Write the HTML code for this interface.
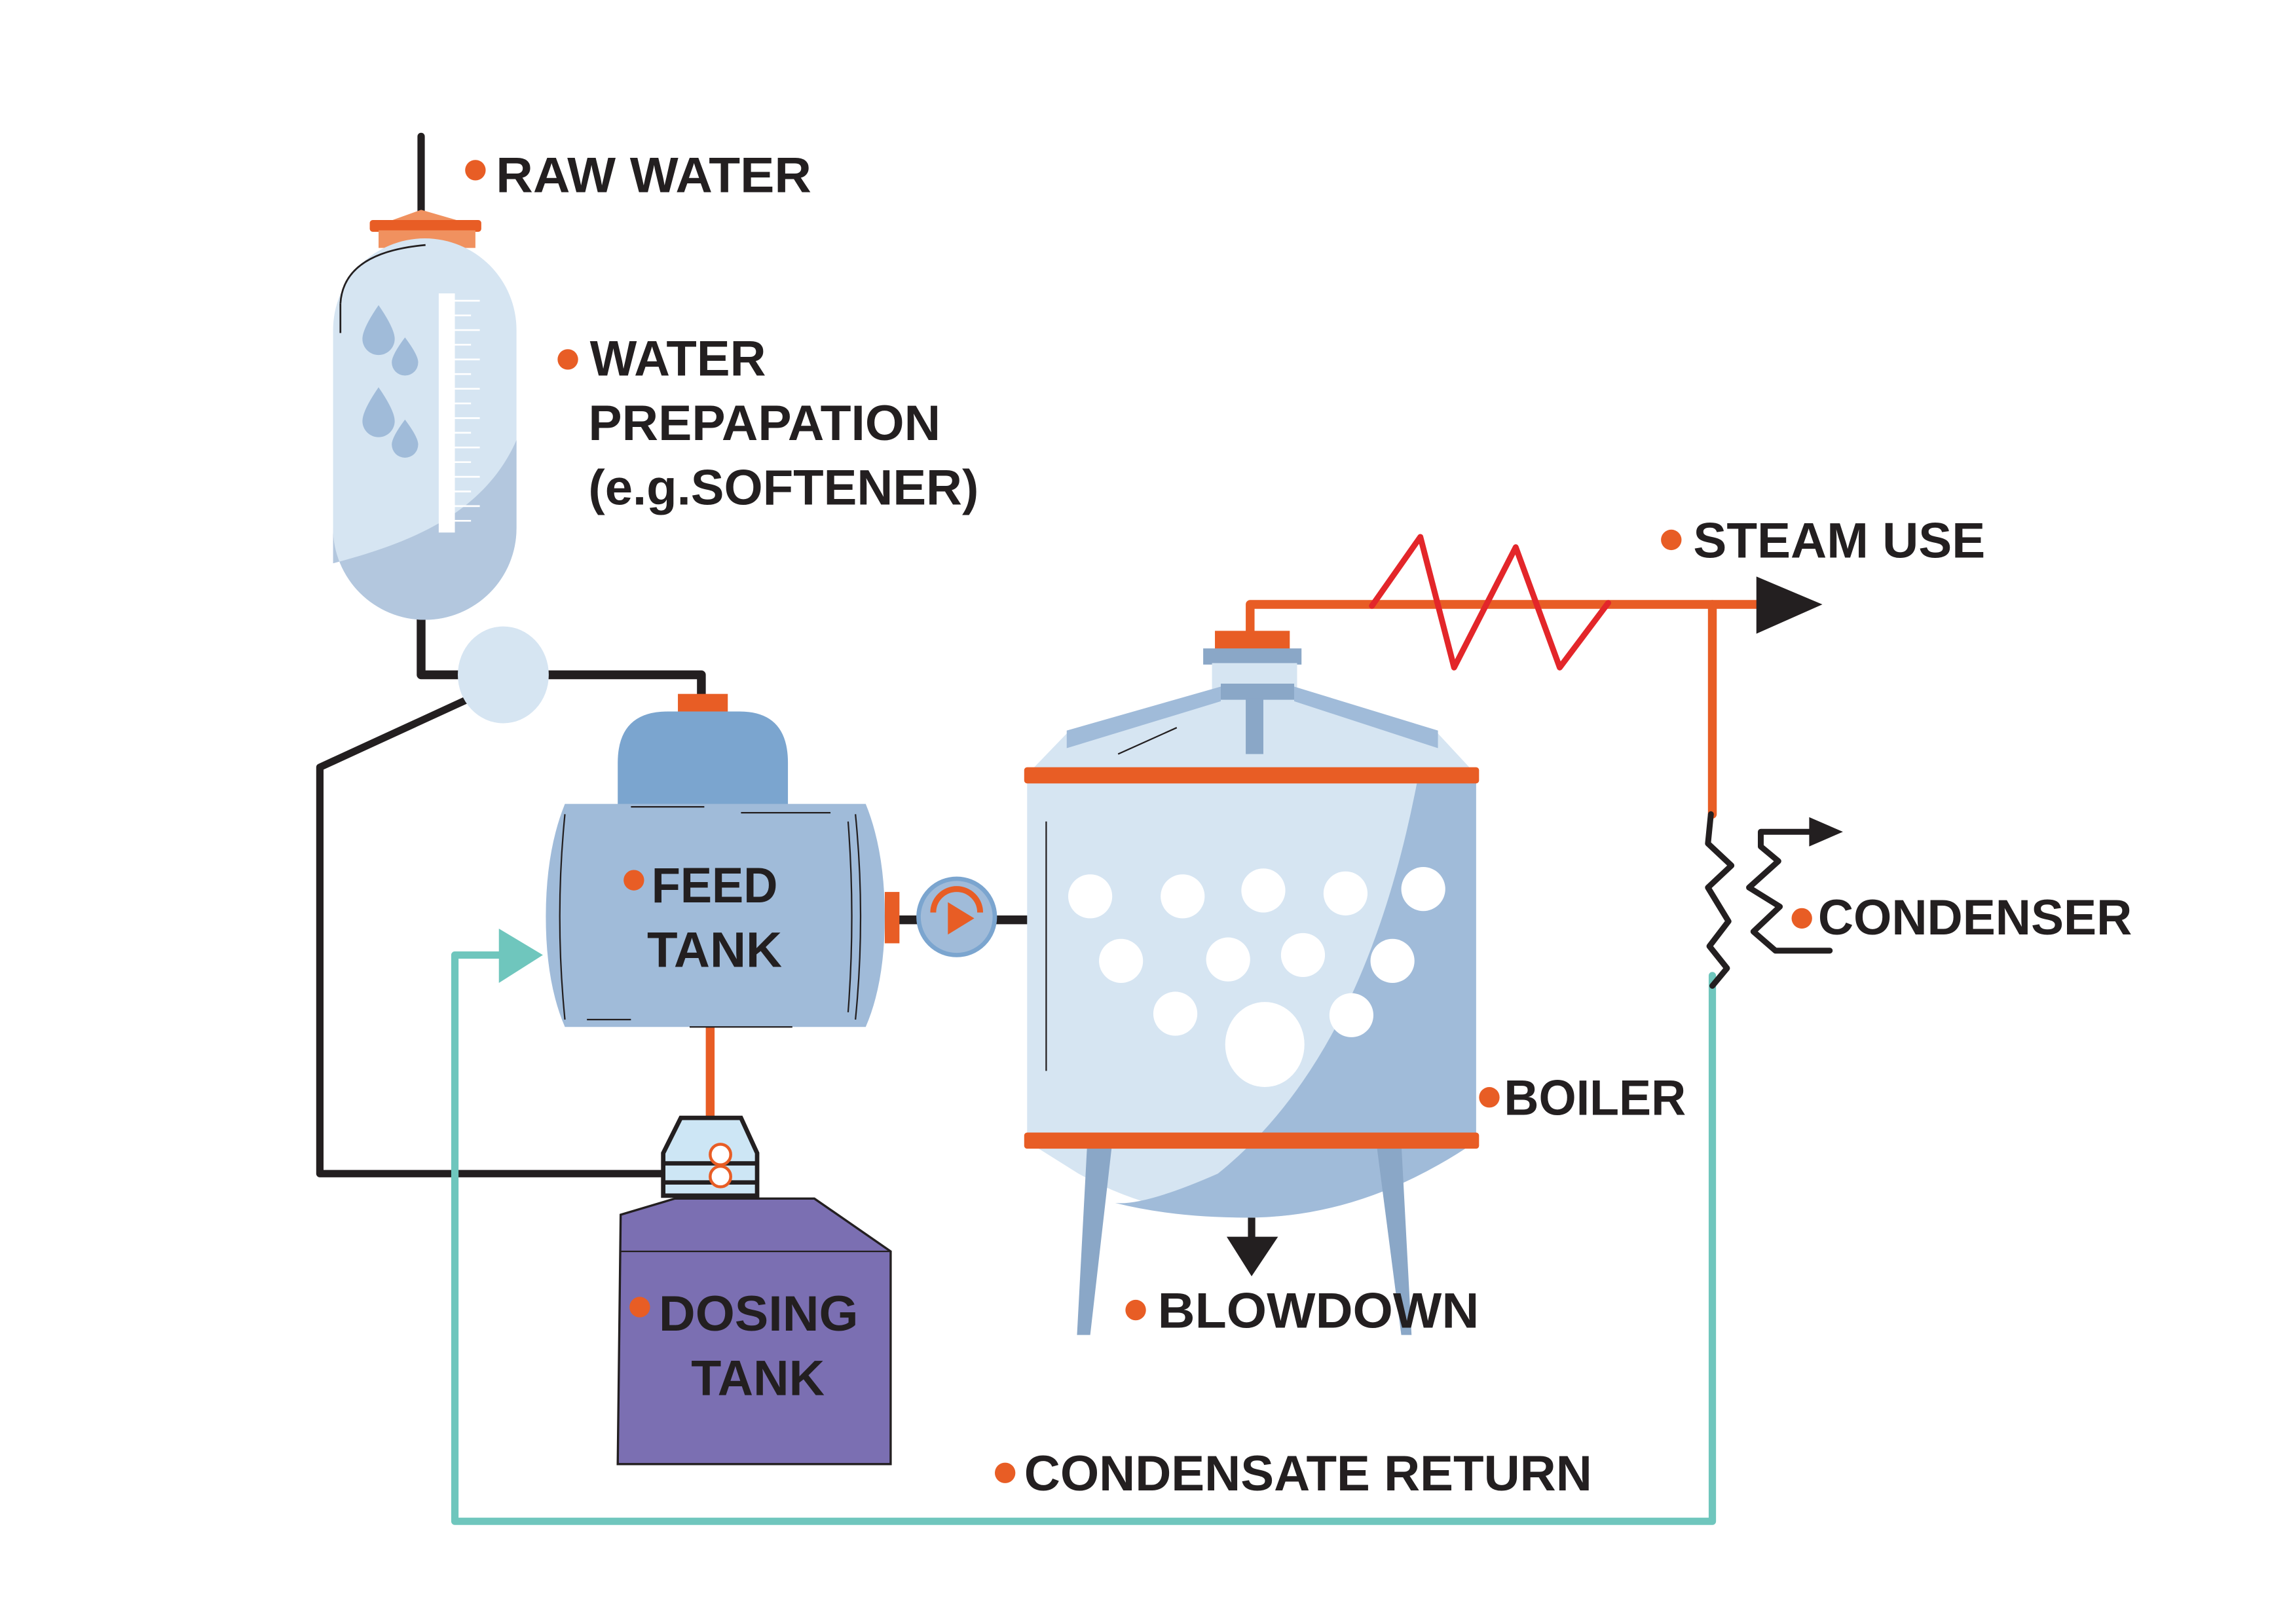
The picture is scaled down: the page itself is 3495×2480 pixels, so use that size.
<!DOCTYPE html>
<html><head><meta charset="utf-8"><style>html,body{margin:0;padding:0;background:#fff}svg{display:block}</style></head><body>
<svg width="3495" height="2480" viewBox="0 0 1560 1107" preserveAspectRatio="none" xmlns="http://www.w3.org/2000/svg">
<rect width="1560" height="1107" fill="#fff"/>
<g fill="none" stroke-linecap="round" stroke-linejoin="round">
<!-- black pipes -->
<path d="M287 93 V148" stroke="#231f20" stroke-width="5"/>
<path d="M287 420 V460 H478 V476" stroke="#231f20" stroke-width="6"/>
<path d="M318 477 L218 523 V800 H455" stroke="#231f20" stroke-width="5"/>
<path d="M612 627 H700" stroke="#231f20" stroke-width="6"/>
<!-- teal condensate return -->
<path d="M1167 665 V1037 H310 V651 H342" stroke="#6fc6bd" stroke-width="5"/>
<!-- orange steam -->
<path d="M852 432 V412 H1200" stroke="#e85d25" stroke-width="6"/>
<path d="M1167 412 V555" stroke="#e85d25" stroke-width="6"/>
<path d="M484 700 V762" stroke="#e85d25" stroke-width="6"/>
<!-- red zigzag -->
<path d="M935 413 L968 366 L991 455 L1033 373 L1063 455 L1096 411" stroke="#e3262a" stroke-width="4"/>
<!-- condenser zigzags -->
<path d="M1166 555 L1164 575 L1180 590 L1164 605 L1178 628 L1165 645 L1177 660 L1167 672" stroke="#231f20" stroke-width="4"/>
<path d="M1235 567 H1200 V577 L1212 587 L1192 605 L1213 618 L1195 635 L1210 648 H1247" stroke="#231f20" stroke-width="4"/>
</g>
<polygon points="1233,557 1256,567 1233,577" fill="#231f20"/>
<polygon points="1197,393 1242,412 1197,432" fill="#231f20"/>
<polygon points="340,633 370,651 340,670" fill="#6fc6bd"/>

<!-- softener tank -->
<polygon points="262,152 287,143 318,152" fill="#f0915f"/>
<rect x="252" y="150" width="76" height="8" rx="2" fill="#e85d25"/>
<rect x="258" y="157" width="66" height="12" fill="#f0915f"/>
<path d="M227 225 A62 62 0 0 1 352 225 V360 A62 62 0 0 1 227 360 Z" fill="#d6e5f2"/>
<path d="M227 384 C280 370 330 350 352 300 V360 A62 62 0 0 1 227 360 Z" fill="#b3c7de"/>
<path d="M232 207 Q234 172 290 167" stroke="#231f20" stroke-width="1.2" fill="none"/>
<path d="M232 207 V227" stroke="#231f20" stroke-width="1.2"/>
<rect x="299" y="200" width="11" height="163" fill="#fff"/>
<g stroke="#fff" stroke-width="1.2">
<path d="M310 205 H327 M310 215 H321 M310 225 H327 M310 235 H321 M310 245 H327 M310 255 H321 M310 265 H327 M310 275 H321 M310 285 H327 M310 295 H321 M310 305 H327 M310 315 H321 M310 325 H327 M310 335 H321 M310 345 H327 M310 355 H321"/>
</g>
<g fill="#a0bbd9">
<path d="M258 208 Q247 224 247 231 A11 11 0 0 0 269 231 Q269 224 258 208Z"/>
<path d="M276 230 Q267 242 267 247 A9 9 0 0 0 285 247 Q285 242 276 230Z"/>
<path d="M258 264 Q247 280 247 287 A11 11 0 0 0 269 287 Q269 280 258 264Z"/>
<path d="M276 286 Q267 298 267 303 A9 9 0 0 0 285 303 Q285 298 276 286Z"/>
</g>
<ellipse cx="343" cy="460" rx="31" ry="33" fill="#d6e5f2"/>

<!-- feed tank -->
<rect x="462" y="473" width="34" height="13" fill="#e85d25"/>
<path d="M421 520 Q421 485 455 485 H504 Q537 485 537 520 V550 H421 Z" fill="#7ba5cf"/>
<path d="M385 548 H590 Q603 580 603 625 Q603 670 590 700 H385 Q372 670 372 625 Q372 580 385 548 Z" fill="#a0bbd9"/>
<g stroke="#231f20" stroke-width="1" fill="none">
<path d="M385 555 Q378 625 385 695"/><path d="M583 555 Q590 625 583 695"/><path d="M578 560 Q583 625 578 690"/>
<path d="M430 550 H480"/><path d="M505 554 H566"/><path d="M400 695 H430"/><path d="M470 700 H540"/>
</g>
<rect x="603" y="608" width="10" height="35" fill="#e85d25"/>
<circle cx="652" cy="625" r="26" fill="#a0bbd9" stroke="#7ba5cf" stroke-width="3"/>
<path d="M636 622 A16 16 0 0 1 668 622" stroke="#e85d25" stroke-width="4" fill="none"/>
<polygon points="646,615 664,626 646,637" fill="#e85d25"/>

<!-- dosing pump & tank -->
<polygon points="423,828 460,817 555,817 607,853 607,998 421,998" fill="#7b6fb2" stroke="#231f20" stroke-width="1.5"/>
<path d="M423 853 H607" stroke="#231f20" stroke-width="1"/>
<polygon points="464,762 505,762 516,786 516,815 452,815 452,786" fill="#cde6f5" stroke="#231f20" stroke-width="3"/>
<path d="M452 793 H516 M452 806 H516" stroke="#231f20" stroke-width="3"/>
<circle cx="491" cy="787" r="7" fill="#fff" stroke="#e85d25" stroke-width="2"/>
<circle cx="491" cy="802" r="7" fill="#fff" stroke="#e85d25" stroke-width="2"/>

<!-- boiler -->
<rect x="828" y="430" width="51" height="14" fill="#e85d25"/>
<rect x="820" y="442" width="67" height="11" fill="#8aa7c7"/>
<rect x="826" y="452" width="58" height="18" fill="#d6e5f2"/>
<polygon points="727,500 832,468 882,468 980,500 1006,528 700,528" fill="#d6e5f2"/>
<polygon points="727,498 832,468 832,478 727,510" fill="#a0bbd9"/>
<polygon points="980,498 882,468 882,478 980,510" fill="#a0bbd9"/>
<rect x="832" y="466" width="50" height="11" fill="#8aa7c7"/>
<rect x="849" y="476" width="12" height="38" fill="#8aa7c7"/>
<path d="M762 514 L802 496" stroke="#231f20" stroke-width="1"/>
<path d="M700 528 V778 L735 800 Q790 830 850 830 Q930 830 1006 778 V528 Z" fill="#d6e5f2"/>
<path d="M966 532 Q930 720 830 800 Q780 822 760 820 Q800 830 850 830 Q930 830 1006 778 V532 Z" fill="#a0bbd9"/>
<path d="M713 560 V730" stroke="#231f20" stroke-width="1"/>
<g fill="#fff">
<circle cx="743" cy="611" r="15"/><circle cx="806" cy="611" r="15"/><circle cx="861" cy="607" r="15"/><circle cx="917" cy="609" r="15"/><circle cx="970" cy="606" r="15"/>
<circle cx="764" cy="655" r="15"/><circle cx="837" cy="654" r="15"/><circle cx="888" cy="651" r="15"/><circle cx="949" cy="655" r="15"/>
<circle cx="801" cy="691" r="15"/><circle cx="921" cy="692" r="15"/><ellipse cx="862" cy="712" rx="27" ry="29"/>
</g>
<polygon points="741,779 758,779 743,910 734,910" fill="#8aa7c7"/>
<polygon points="938,779 955,779 962,910 955,910" fill="#8aa7c7"/>
<rect x="698" y="523" width="310" height="11" rx="2" fill="#e85d25"/>
<rect x="698" y="772" width="310" height="11" rx="2" fill="#e85d25"/>
<path d="M853 830 V845" stroke="#231f20" stroke-width="5"/>
<polygon points="836,843 871,843 853,870" fill="#231f20"/>

<!-- labels -->
<g fill="#e85d25">
<circle cx="324" cy="116" r="7"/><circle cx="387" cy="245" r="7"/><circle cx="1139" cy="368" r="7"/>
<circle cx="1228" cy="626" r="7"/><circle cx="1015" cy="748" r="7"/><circle cx="774" cy="893" r="7"/>
<circle cx="685" cy="1004" r="7"/><circle cx="432" cy="600" r="7"/><circle cx="436" cy="891" r="7"/>
</g>
<g font-family="Liberation Sans, sans-serif" font-weight="bold" font-size="34" fill="#231f20" lengthAdjust="spacingAndGlyphs">
<text x="338" y="131" textLength="215" lengthAdjust="spacingAndGlyphs">RAW  WATER</text>
<text x="402" y="256" textLength="120" lengthAdjust="spacingAndGlyphs">WATER</text>
<text x="401" y="300" textLength="240" lengthAdjust="spacingAndGlyphs">PREPAPATION</text>
<text x="401" y="344" textLength="266" lengthAdjust="spacingAndGlyphs">(e.g.SOFTENER)</text>
<text x="1154" y="380" textLength="199" lengthAdjust="spacingAndGlyphs">STEAM USE</text>
<text x="1239" y="637" textLength="214" lengthAdjust="spacingAndGlyphs">CONDENSER</text>
<text x="1025" y="760" textLength="124" lengthAdjust="spacingAndGlyphs">BOILER</text>
<text x="789" y="905" textLength="219" lengthAdjust="spacingAndGlyphs">BLOWDOWN</text>
<text x="698" y="1016" textLength="387" lengthAdjust="spacingAndGlyphs">CONDENSATE RETURN</text>
<text x="444" y="615" textLength="86" lengthAdjust="spacingAndGlyphs">FEED</text>
<text x="441" y="659" textLength="92" lengthAdjust="spacingAndGlyphs">TANK</text>
<text x="449" y="907" textLength="136" lengthAdjust="spacingAndGlyphs">DOSING</text>
<text x="471" y="951" textLength="91" lengthAdjust="spacingAndGlyphs">TANK</text>
</g>
</svg>
</body></html>
